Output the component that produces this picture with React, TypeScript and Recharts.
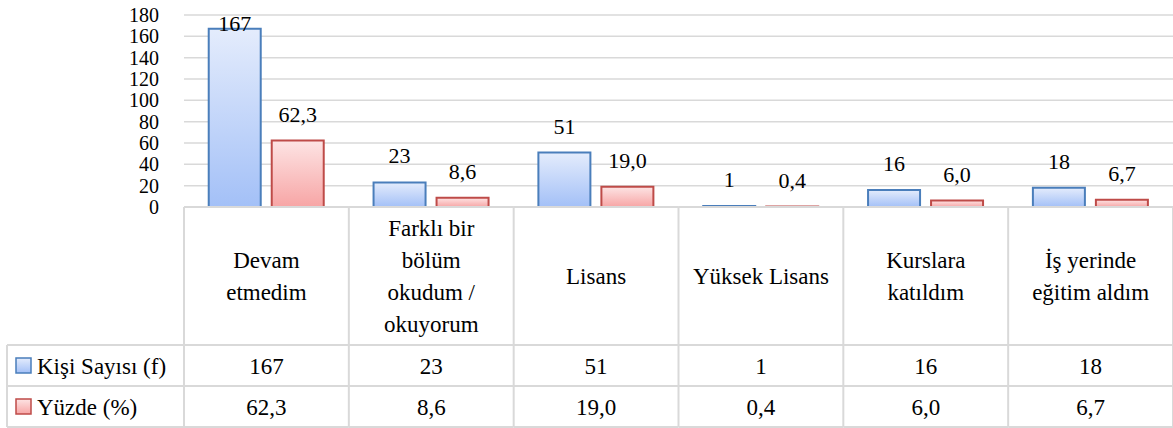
import React from "react";
import { BarChart, Bar, XAxis, YAxis, CartesianGrid, LabelList } from "recharts";

const categories = [
  "Devam\netmedim",
  "Farklı bir\nbölüm\nokudum /\nokuyorum",
  "Lisans",
  "Yüksek Lisans",
  "Kurslara\nkatıldım",
  "İş yerinde\neğitim aldım",
];
const counts = [167, 23, 51, 1, 16, 18];
const percents = [62.3, 8.6, 19.0, 0.4, 6.0, 6.7];
const seriesNames = ["Kişi Sayısı (f)", "Yüzde (%)"];
const yTicks = [0, 20, 40, 60, 80, 100, 120, 140, 160, 180];

const CHART_W = 1173;
const CHART_H = 428;
const Y_AXIS_W = 184;
const TOP = 15;
const TABLE_H = 221;
const BAND = (CHART_W - Y_AXIS_W) / categories.length;
const HEADER_H = 138;
const ROW_H = 41;

const GRID = "#d9d9d9";
const SERIF = "'Liberation Serif', serif";

const fmtPct = (v: number) => v.toFixed(1).replace(".", ",");

const data = categories.map((name, i) => ({
  name,
  count: counts[i],
  pct: percents[i],
}));

function valueLabel(format: (v: number) => string) {
  return (props: any) => {
    const { x, y, width, value } = props;
    const baseline = Math.max(Number(y) - 19, TOP + 16);
    return (
      <text
        x={Number(x) + Number(width) / 2}
        y={baseline}
        textAnchor="middle"
        fontFamily={SERIF}
        fontSize={22}
        fill="#000"
      >
        {format(Number(value))}
      </text>
    );
  };
}

function Swatch({ x, y, fill, stroke }: { x: number; y: number; fill: string; stroke: string }) {
  return <rect x={x} y={y} width={15} height={15} fill={fill} stroke={stroke} strokeWidth={1.5} />;
}

function TableTick(props: any) {
  const { x, y, index } = props;
  const left = x - BAND / 2;
  const right = x + BAND / 2;
  const lines: string[] = categories[index].split("\n");
  const headMid = y + HEADER_H / 2;
  const firstBase = headMid - ((lines.length - 1) * 32) / 2 + 8;
  const r1 = y + HEADER_H;
  const r2 = r1 + ROW_H;
  const r3 = r2 + ROW_H;
  const textProps = { fontFamily: SERIF, fontSize: 23, fill: "#000", textAnchor: "middle" as const };

  return (
    <g>
      <line x1={left} x2={right} y1={y} y2={y} stroke={GRID} strokeWidth={2} />
      <line x1={left} x2={right} y1={r1} y2={r1} stroke={GRID} strokeWidth={2} />
      <line x1={left} x2={right} y1={r2} y2={r2} stroke={GRID} strokeWidth={2} />
      <line x1={left} x2={right} y1={r3} y2={r3} stroke={GRID} strokeWidth={2} />
      <line x1={left} x2={left} y1={y} y2={r3} stroke={GRID} strokeWidth={2} />
      {index === categories.length - 1 && (
        <line x1={right} x2={right} y1={y} y2={r3} stroke={GRID} strokeWidth={2} />
      )}
      {lines.map((ln, i) => (
        <text key={i} x={x} y={firstBase + i * 32} {...textProps}>
          {ln}
        </text>
      ))}
      <text x={x} y={r1 + ROW_H / 2 + 8} {...textProps}>
        {counts[index]}
      </text>
      <text x={x} y={r2 + ROW_H / 2 + 8} {...textProps}>
        {fmtPct(percents[index])}
      </text>
      {index === 0 && (
        <g>
          <line x1={7} x2={left} y1={r1} y2={r1} stroke={GRID} strokeWidth={2} />
          <line x1={7} x2={left} y1={r2} y2={r2} stroke={GRID} strokeWidth={2} />
          <line x1={7} x2={left} y1={r3} y2={r3} stroke={GRID} strokeWidth={2} />
          <line x1={7} x2={7} y1={r1} y2={r3} stroke={GRID} strokeWidth={2} />
          <Swatch x={16} y={r1 + ROW_H / 2 - 7.5} fill="url(#gradBlue)" stroke="#4a7ebb" />
          <Swatch x={16} y={r2 + ROW_H / 2 - 7.5} fill="url(#gradRed)" stroke="#be4b48" />
          <text x={37} y={r1 + ROW_H / 2 + 8} fontFamily={SERIF} fontSize={23} fill="#000">
            {seriesNames[0]}
          </text>
          <text x={37} y={r2 + ROW_H / 2 + 8} fontFamily={SERIF} fontSize={23} fill="#000">
            {seriesNames[1]}
          </text>
        </g>
      )}
    </g>
  );
}

export default function App() {
  return (
    <div style={{ position: "absolute", left: 0, top: 0, width: CHART_W, height: CHART_H, background: "#fff" }}>
      <BarChart
        width={CHART_W}
        height={CHART_H}
        data={data}
        margin={{ top: TOP, right: 0, bottom: 0, left: 0 }}
        barCategoryGap="15%"
        barGap={11}
      >
        <defs>
          <linearGradient id="gradBlue" x1="0" y1="0" x2="0" y2="1">
            <stop offset="0%" stopColor="#e4ecfc" />
            <stop offset="100%" stopColor="#a3c0f7" />
          </linearGradient>
          <linearGradient id="gradRed" x1="0" y1="0" x2="0" y2="1">
            <stop offset="0%" stopColor="#fde4e4" />
            <stop offset="100%" stopColor="#f7a5a5" />
          </linearGradient>
        </defs>
        <CartesianGrid vertical={false} stroke={GRID} strokeWidth={1.5} />
        <XAxis
          dataKey="name"
          height={TABLE_H}
          interval={0}
          tickSize={0}
          tickMargin={0}
          axisLine={false}
          tick={<TableTick />}
        />
        <YAxis
          width={Y_AXIS_W}
          domain={[0, 180]}
          ticks={yTicks}
          interval={0}
          axisLine={false}
          tickLine={false}
          tickSize={0}
          tickMargin={25}
          tick={{ fontFamily: SERIF, fontSize: 20, fill: "#000" }}
        />
        <Bar dataKey="count" fill="url(#gradBlue)" stroke="#4a7ebb" strokeWidth={2} isAnimationActive={false}>
          <LabelList dataKey="count" content={valueLabel((v) => String(v))} />
        </Bar>
        <Bar dataKey="pct" fill="url(#gradRed)" stroke="#be4b48" strokeWidth={2} isAnimationActive={false}>
          <LabelList dataKey="pct" content={valueLabel(fmtPct)} />
        </Bar>
      </BarChart>
    </div>
  );
}
